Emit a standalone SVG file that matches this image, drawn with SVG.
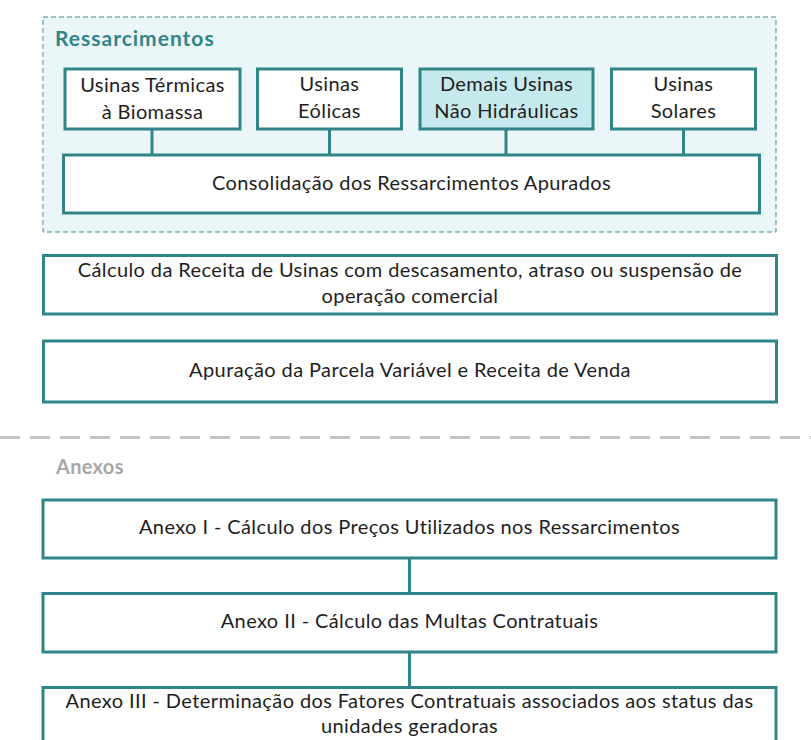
<svg xmlns="http://www.w3.org/2000/svg" width="811" height="740" viewBox="0 0 811 740">
  <style>
    .box { fill: #ffffff; stroke: #2f8588; stroke-width: 3; }
    .hl { fill: #c6e9ed; }
    .t { font-family: Lato, "Liberation Sans", sans-serif; font-size: 20px; letter-spacing: 0.4px; fill: #1e1e1e; text-anchor: middle; }
    .h { font-family: Lato, "Liberation Sans", sans-serif; font-weight: bold; }
    .conn { stroke: #2f8588; stroke-width: 3; fill: none; }
  </style>
  <rect width="811" height="740" fill="#ffffff"/>
  <g id="ressarcimentos-group">
    <rect x="43" y="17" width="733" height="215" fill="#eaf6f8" stroke="#3c8e90" stroke-width="1" stroke-dasharray="5,3"/>
    <text x="55" y="46" class="h" font-size="21" letter-spacing="1" fill="#2f8588">Ressarcimentos</text>
  </g>
  <g id="connectors">
    <line class="conn" x1="152" y1="129" x2="152" y2="154"/>
    <line class="conn" x1="329.5" y1="129" x2="329.5" y2="154"/>
    <line class="conn" x1="506" y1="129" x2="506" y2="154"/>
    <line class="conn" x1="683.5" y1="129" x2="683.5" y2="154"/>
    <line class="conn" x1="409.5" y1="558" x2="409.5" y2="593"/>
    <line class="conn" x1="409.5" y1="652" x2="409.5" y2="687"/>
  </g>
  <g id="n-termicas">
    <rect class="box" x="65" y="69" width="175" height="60"/>
    <text class="t" x="152.5" y="92">Usinas Térmicas</text>
    <text class="t" x="152.5" y="119">à Biomassa</text>
  </g>
  <g id="n-eolicas">
    <rect class="box" x="257.5" y="69" width="144" height="60"/>
    <text class="t" x="329.5" y="91">Usinas</text>
    <text class="t" x="329.5" y="118">Eólicas</text>
  </g>
  <g id="n-demais">
    <rect class="box hl" x="420" y="69" width="173" height="60"/>
    <text class="t" x="506.5" y="91">Demais Usinas</text>
    <text class="t" x="506.5" y="118">Não Hidráulicas</text>
  </g>
  <g id="n-solares">
    <rect class="box" x="611.5" y="69" width="144" height="60"/>
    <text class="t" x="683.5" y="91">Usinas</text>
    <text class="t" x="683.5" y="118">Solares</text>
  </g>
  <g id="n-consolidacao">
    <rect class="box" x="63.5" y="155" width="696" height="58"/>
    <text class="t" x="411.5" y="190">Consolidação dos Ressarcimentos Apurados</text>
  </g>
  <g id="n-calculo-receita">
    <rect class="box" x="43.5" y="255.5" width="733" height="58.5"/>
    <text class="t" x="410" y="277">Cálculo da Receita de Usinas com descasamento, atraso ou suspensão de</text>
    <text class="t" x="410" y="303">operação comercial</text>
  </g>
  <g id="n-apuracao">
    <rect class="box" x="43.5" y="341" width="733" height="61"/>
    <text class="t" x="410" y="377">Apuração da Parcela Variável e Receita de Venda</text>
  </g>
  <line x1="0" y1="437.5" x2="811" y2="437.5" stroke="#c4c4c4" stroke-width="3" stroke-dasharray="20,10"/>
  <text x="56" y="474" class="h" font-size="20" letter-spacing="0.3" fill="#a6a6a6">Anexos</text>
  <g id="n-anexo1">
    <rect class="box" x="43" y="500" width="733" height="58"/>
    <text class="t" x="409.5" y="534">Anexo I - Cálculo dos Preços Utilizados nos Ressarcimentos</text>
  </g>
  <g id="n-anexo2">
    <rect class="box" x="43" y="593.5" width="733" height="58.5"/>
    <text class="t" x="409.5" y="628">Anexo II - Cálculo das Multas Contratuais</text>
  </g>
  <g id="n-anexo3">
    <rect class="box" x="43" y="687.5" width="733" height="70"/>
    <text class="t" x="409.5" y="708">Anexo III - Determinação dos Fatores Contratuais associados aos status das</text>
    <text class="t" x="409.5" y="733">unidades geradoras</text>
  </g>
</svg>
